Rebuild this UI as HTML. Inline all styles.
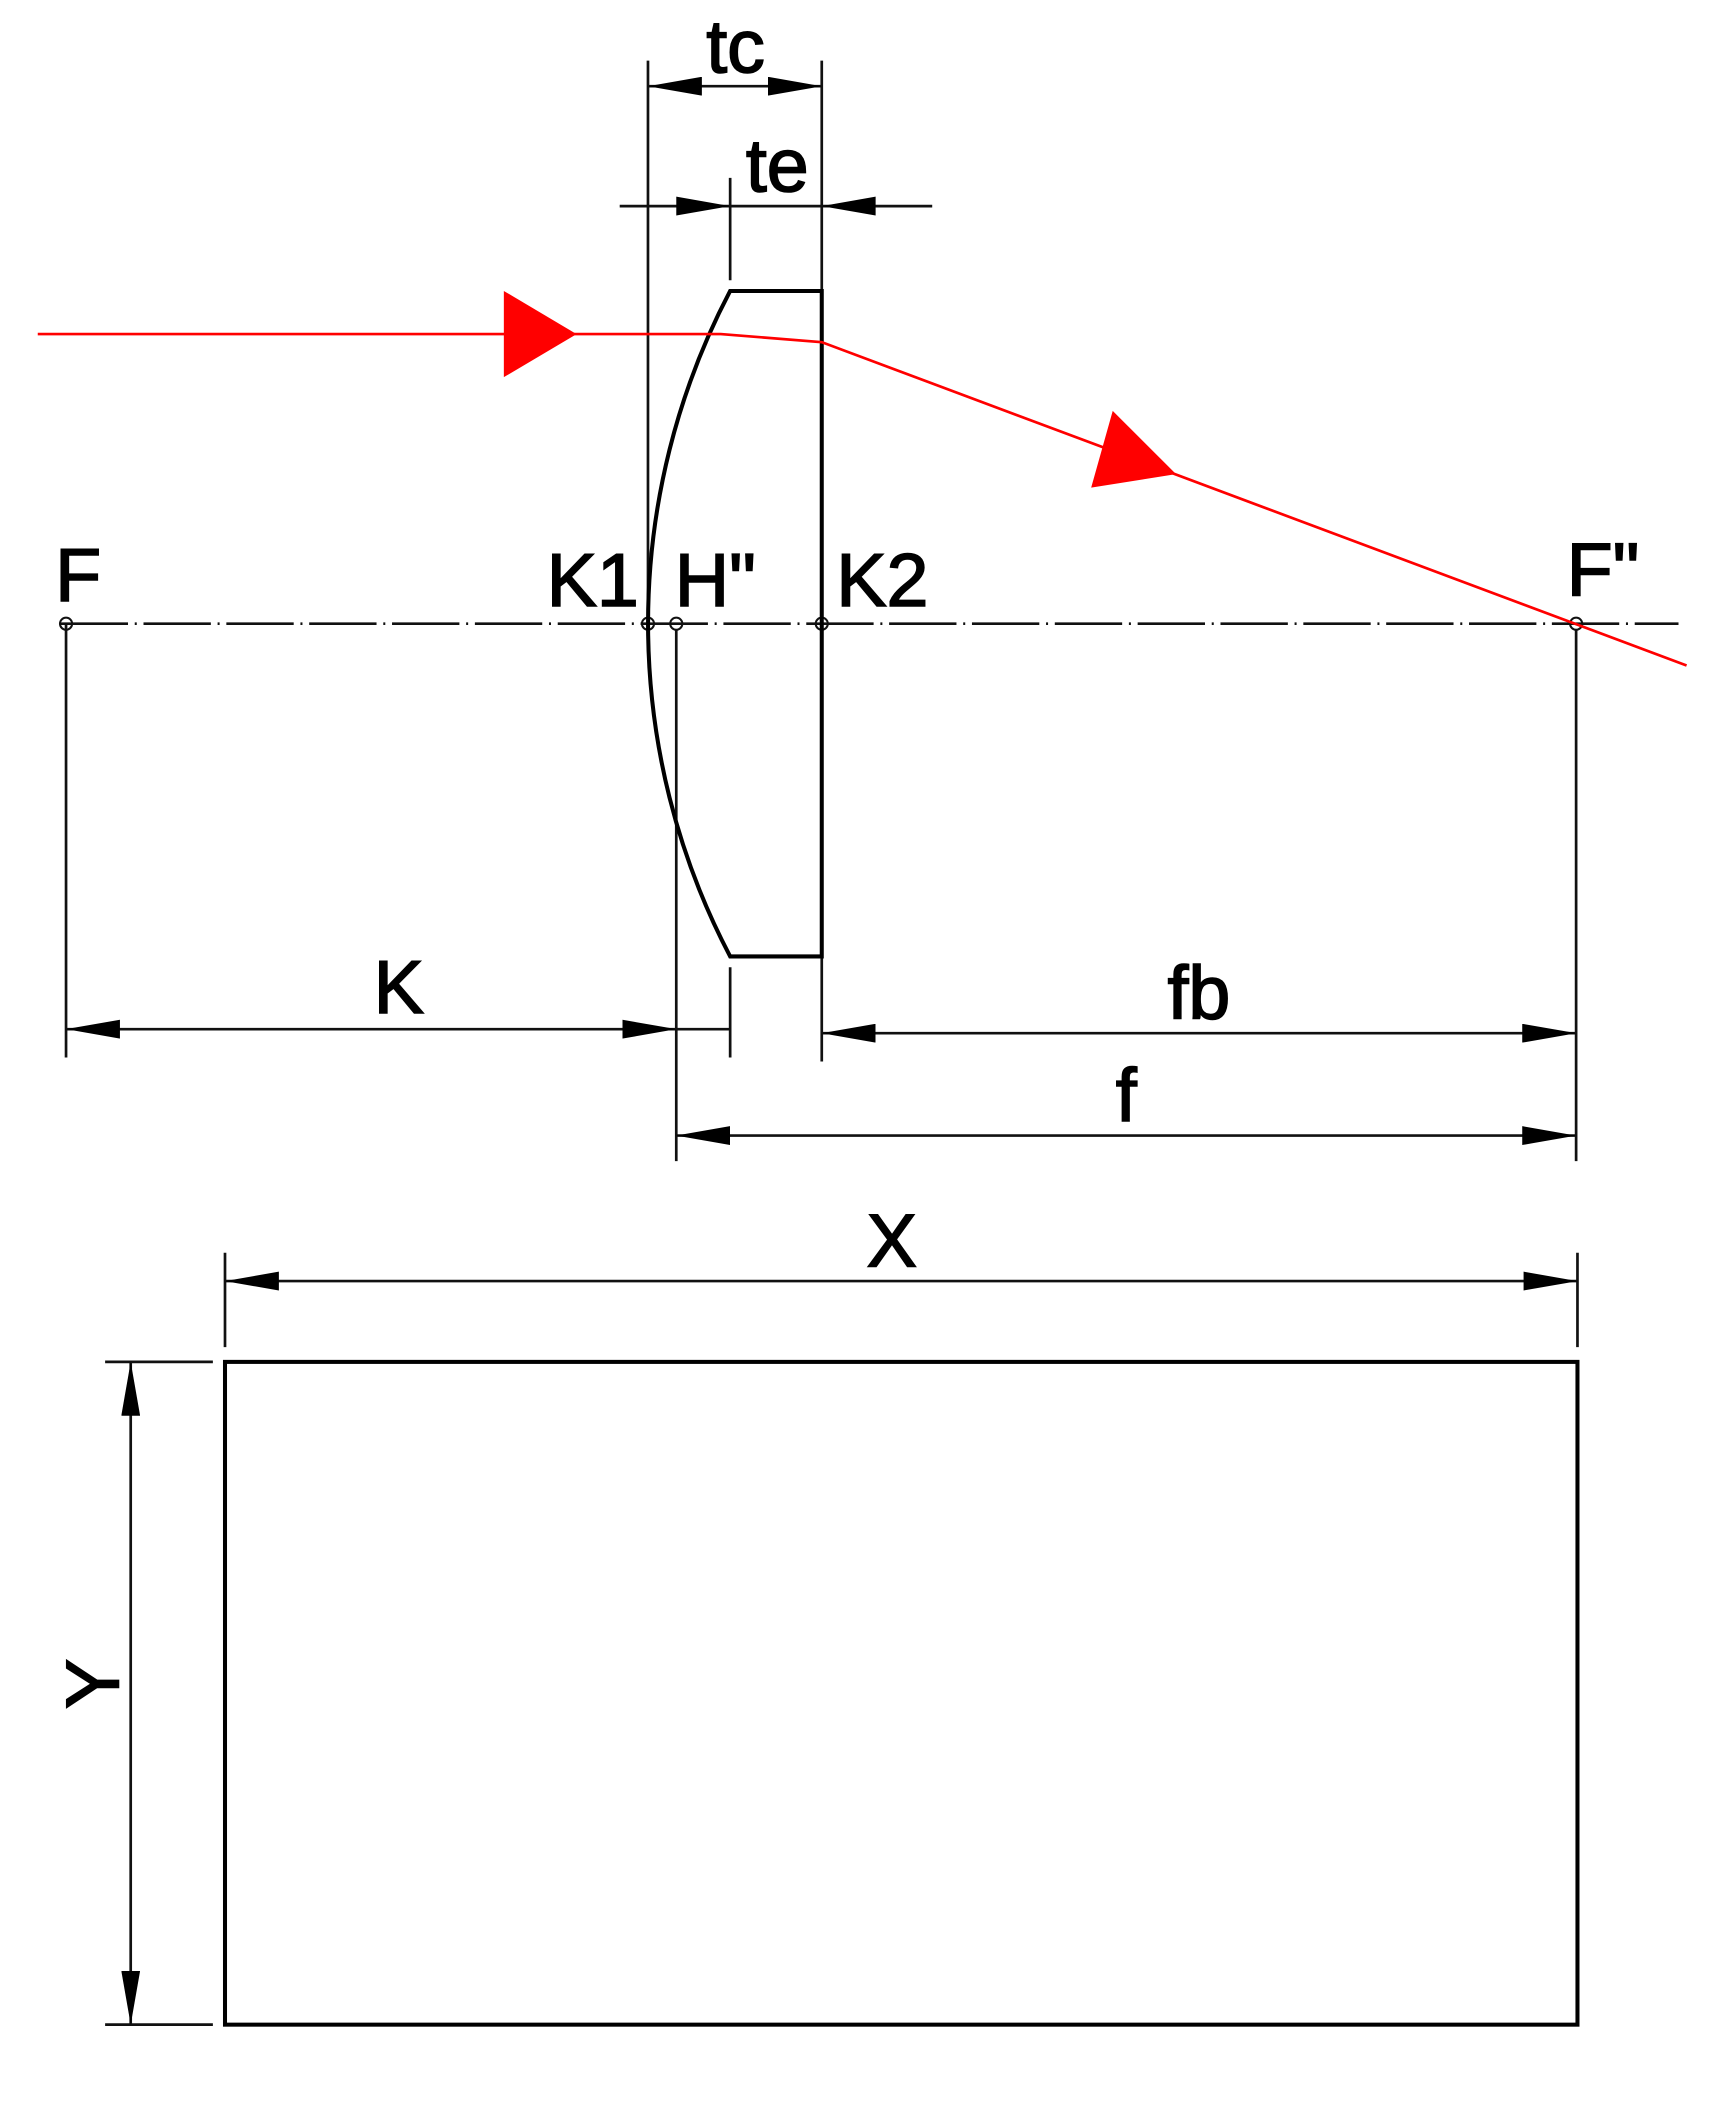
<!DOCTYPE html>
<html><head><meta charset="utf-8"><style>
html,body{margin:0;padding:0;background:#fff;}
svg{display:block;}
text{font-family:"Liberation Sans",sans-serif;fill:#000;stroke:#000;stroke-width:1.2;}
</style></head><body>
<svg width="1733" height="2112" viewBox="0 0 1280 1560" xmlns="http://www.w3.org/2000/svg">
<defs>
<marker id="a" viewBox="0 0 40 14" refX="40" refY="7" markerWidth="40" markerHeight="14" markerUnits="userSpaceOnUse" orient="auto-start-reverse">
<path d="M0,0 L40,7 L0,14 Z" fill="#000"/>
</marker>
</defs>
<g transform="scale(0.995)">
<g stroke="#111" stroke-width="2" fill="none">
<line x1="45" y1="463" x2="1246" y2="463" stroke-dasharray="50 5 1.5 5"/>
<line x1="481" y1="45" x2="481" y2="463"/>
<line x1="610" y1="45" x2="610" y2="216"/>
<line x1="542" y1="132" x2="542" y2="208"/>
<line x1="49" y1="463" x2="49" y2="785"/>
<line x1="502" y1="468" x2="502" y2="862"/>
<line x1="542" y1="718" x2="542" y2="785"/>
<line x1="610" y1="710" x2="610" y2="788"/>
<line x1="1170" y1="468" x2="1170" y2="862"/>
<line x1="167" y1="930" x2="167" y2="1000"/>
<line x1="1171" y1="930" x2="1171" y2="1000"/>
<line x1="78" y1="1011" x2="158" y2="1011"/>
<line x1="78" y1="1503" x2="158" y2="1503"/>
<line x1="481" y1="64" x2="610" y2="64" marker-start="url(#a)" marker-end="url(#a)"/>
<line x1="460" y1="153" x2="692" y2="153"/>
<path d="M542,153 L502,146 L502,160 Z" fill="#000" stroke="none"/>
<path d="M610,153 L650,146 L650,160 Z" fill="#000" stroke="none"/>
<line x1="49" y1="764" x2="502" y2="764" marker-start="url(#a)" marker-end="url(#a)"/>
<line x1="502" y1="764" x2="542" y2="764"/>
<line x1="610" y1="767" x2="1170" y2="767" marker-start="url(#a)" marker-end="url(#a)"/>
<line x1="502" y1="843" x2="1170" y2="843" marker-start="url(#a)" marker-end="url(#a)"/>
<line x1="167" y1="951" x2="1171" y2="951" marker-start="url(#a)" marker-end="url(#a)"/>
<line x1="97" y1="1011" x2="97" y2="1503" marker-start="url(#a)" marker-end="url(#a)"/>
<circle cx="49" cy="463" r="4.5" stroke-width="1.5"/>
<circle cx="481" cy="463" r="4.5" stroke-width="1.5"/>
<circle cx="502" cy="463" r="4.5" stroke-width="1.5"/>
<circle cx="610" cy="463" r="4.5" stroke-width="1.5"/>
<circle cx="1170" cy="463" r="4.5" stroke-width="1.5"/>
</g>
<path d="M542,216 L610,216 L610,710 L542,710 A531,531 0 0 1 542,216 Z" fill="none" stroke="#000" stroke-width="3"/>
<rect x="167" y="1011" width="1004" height="492" fill="none" stroke="#000" stroke-width="3"/>
<polyline points="28,248 535,248 610,254 1252,494" stroke="#f00" stroke-width="2" fill="none"/>
<path d="M374,216 L428,248 L374,280 Z" fill="#f00"/>
<path d="M826,305 L873,352 L810,362 Z" fill="#f00"/>
<g font-size="56">
<text x="546" y="54" text-anchor="middle">tc</text>
<text x="577" y="142" text-anchor="middle">te</text>
<text x="58" y="446" text-anchor="middle">F</text>
<text x="440" y="450" text-anchor="middle">K1</text>
<text x="531" y="450" text-anchor="middle">H"</text>
<text x="655" y="450" text-anchor="middle">K2</text>
<text x="1190" y="442" text-anchor="middle">F"</text>
<text x="296" y="752" text-anchor="middle">K</text>
<text x="890" y="756" text-anchor="middle">fb</text>
<text x="836" y="832" text-anchor="middle">f</text>
<text x="662" y="940" text-anchor="middle">X</text>
<text x="0" y="0" text-anchor="middle" transform="translate(88,1250) rotate(-90)">Y</text>
</g>
</g>
</svg>
</body></html>
